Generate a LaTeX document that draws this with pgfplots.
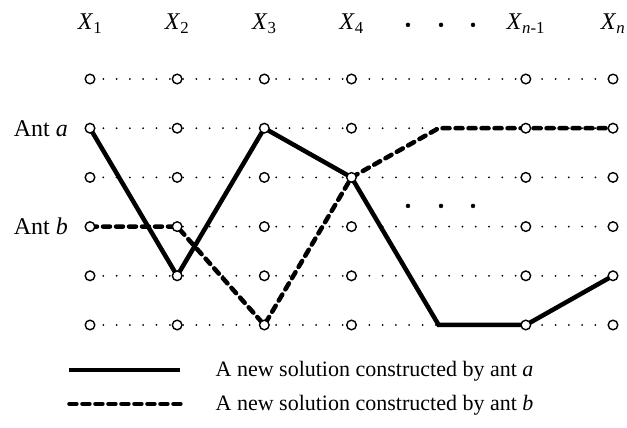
\documentclass[border=0pt]{standalone}
\usepackage{fontspec}
\setmainfont{Liberation Serif}
\usepackage{pgfplots}
\pgfplotsset{compat=1.18}
\begin{document}
\begin{tikzpicture}
\useasboundingbox (-90pt,-103pt) rectangle (537pt,325pt);
\begin{axis}[
    at={(0pt,0pt)}, anchor=south west,
    scale only axis,
    width=523pt, height=246pt,
    xmin=1, xmax=7, ymin=1, ymax=6,
    axis lines=none,
    clip=false,
    legend cell align=left,
    legend style={draw=none, fill=none, at={(axis cs:0.736,-0.26)}, anchor=west,
        inner sep=0pt, row sep=17pt, font=\fontsize{22}{26}\selectfont,
        nodes={inner sep=0pt}},
    legend image code/.code={\draw[#1] (0pt,0pt) -- (111pt,0pt); \path (144pt,0pt);},
]
% dotted rows
\pgfplotsinvokeforeach{1,...,6}{
  \addplot[forget plot, black, line width=2pt, line cap=round,
      dash pattern=on 0pt off 13.3pt] coordinates {(1,#1) (7,#1)};
}
% nodes
\pgfplotsinvokeforeach{1,2,3,4,6,7}{
  \addplot[forget plot, only marks, mark=*, mark size=4.8pt,
      mark options={fill=white, draw=black, line width=1.4pt}]
      coordinates {(#1,1) (#1,2) (#1,3) (#1,4) (#1,5) (#1,6)};
}
% ellipses
\addplot[forget plot, only marks, mark=*, mark size=2pt, black]
    coordinates {(4.648,3.42) (5.027,3.42) (5.394,3.42) (4.648,7.10) (5.027,7.10) (5.394,7.10)};
% ant a
\addplot[black, line width=4.5pt] coordinates {(1,5) (2,2) (3,5) (4,4) (5,1) (6,1) (7,2)};
\addlegendentry{A new solution constructed by ant \textit{a}}
% ant b
\addplot[black, line width=4.5pt, line cap=round, dash pattern=on 7pt off 6pt]
    coordinates {(1,3) (2,3) (3,1) (4,4) (5,5) (6,5) (7,5)};
\addlegendentry{A new solution constructed by ant \textit{b}}

\begin{scope}[font=\fontsize{24}{28}\selectfont]
\node[anchor=base] at (axis cs:1,6.996) {\textit{X}\textsubscript{1}};
\node[anchor=base] at (axis cs:2,6.996) {\textit{X}\textsubscript{2}};
\node[anchor=base] at (axis cs:3,6.996) {\textit{X}\textsubscript{3}};
\node[anchor=base] at (axis cs:4,6.996) {\textit{X}\textsubscript{4}};
\node[anchor=base] at (axis cs:6,6.996) {\textit{X}\textsubscript{\textit{n}-1}};
\node[anchor=base] at (axis cs:7,6.996) {\textit{X}\textsubscript{\textit{n}}};
\node[anchor=east, inner sep=0pt] at (axis cs:0.748,5) {Ant \textit{a}};
\node[anchor=east, inner sep=0pt] at (axis cs:0.748,3) {Ant \textit{b}};
\end{scope}
\end{axis}
\end{tikzpicture}
\end{document}
